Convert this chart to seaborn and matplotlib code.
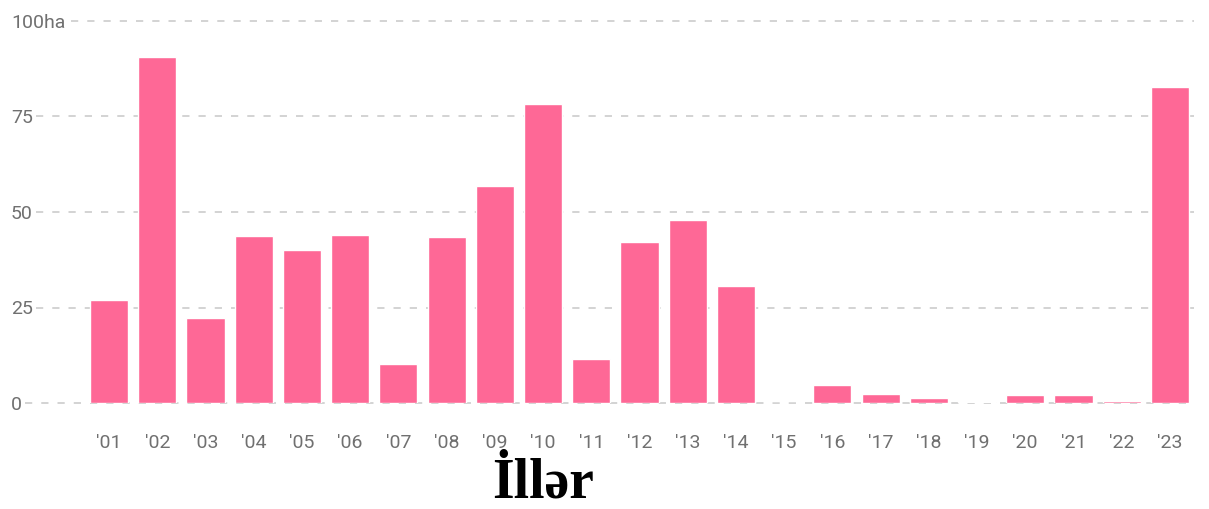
import matplotlib

matplotlib.use('Agg')
import matplotlib.pyplot as plt
import seaborn as sns
import pandas as pd

# 数据
years = ["'01", "'02", "'03", "'04", "'05", "'06", "'07", "'08", "'09", "'10", "'11", "'12",
         "'13", "'14", "'15", "'16", "'17", "'18", "'19", "'20", "'21", "'22", "'23"]
hectares = [27.0, 90.6, 22.3, 43.7, 40.0, 44.0, 10.2, 43.5, 56.8, 78.3, 11.5, 42.1,
            47.9, 30.6, 0.0, 4.7, 2.4, 1.4, 0.2, 2.1, 2.1, 0.5, 82.7]
y_ticks = [0, 25, 50, 75, 100]
y_tick_labels = ['0', '25', '50', '75', '100ha']
x_title = 'İllər'

df = pd.DataFrame({'year': years, 'ha': hectares})

sns.set_style('white')
plt.rcParams['font.family'] = ['Roboto', 'DejaVu Sans']

W, H = 1209, 509
fig = plt.figure(figsize=(W / 100, H / 100), dpi=100)
ax = fig.add_axes([85 / W, 1 - 403 / H, 1109 / W, 382 / H])

sns.barplot(data=df, x='year', y='ha', color='#FE6896', saturation=1,
            width=0.79, ax=ax, zorder=3)

ax.set_ylim(0, 100)
ax.set_yticks(y_ticks)
ax.set_yticklabels(y_tick_labels)
ax.set_xlabel('')
ax.set_ylabel('')
sns.despine(ax=ax, left=True, bottom=True, right=True, top=True)
ax.tick_params(axis='both', length=0, labelsize=14, labelcolor='#707070')
ax.tick_params(axis='x', pad=22)
ax.tick_params(axis='y', pad=74 * 0.72)
for lab in ax.get_yticklabels():
    lab.set_horizontalalignment('left')

# 虚线网格（从标签右侧开始）
label_end_px = {0: 25, 25: 36, 50: 36, 75: 36, 100: 71}
for t in y_ticks:
    xmin = (label_end_px[t] - 85) / 1109
    ax.axhline(t, xmin=xmin, xmax=1, color='#d0d0d0', linewidth=1.3,
               linestyle=(0, (4, 5)), clip_on=False, zorder=1)

fig.text(543 / W, 1 - 497 / H, x_title, ha='center', va='baseline',
         fontsize=40, fontweight='bold', family=['Liberation Serif', 'DejaVu Serif'],
         color='black')

plt.savefig('out.png', dpi=100)
plt.close(fig)
